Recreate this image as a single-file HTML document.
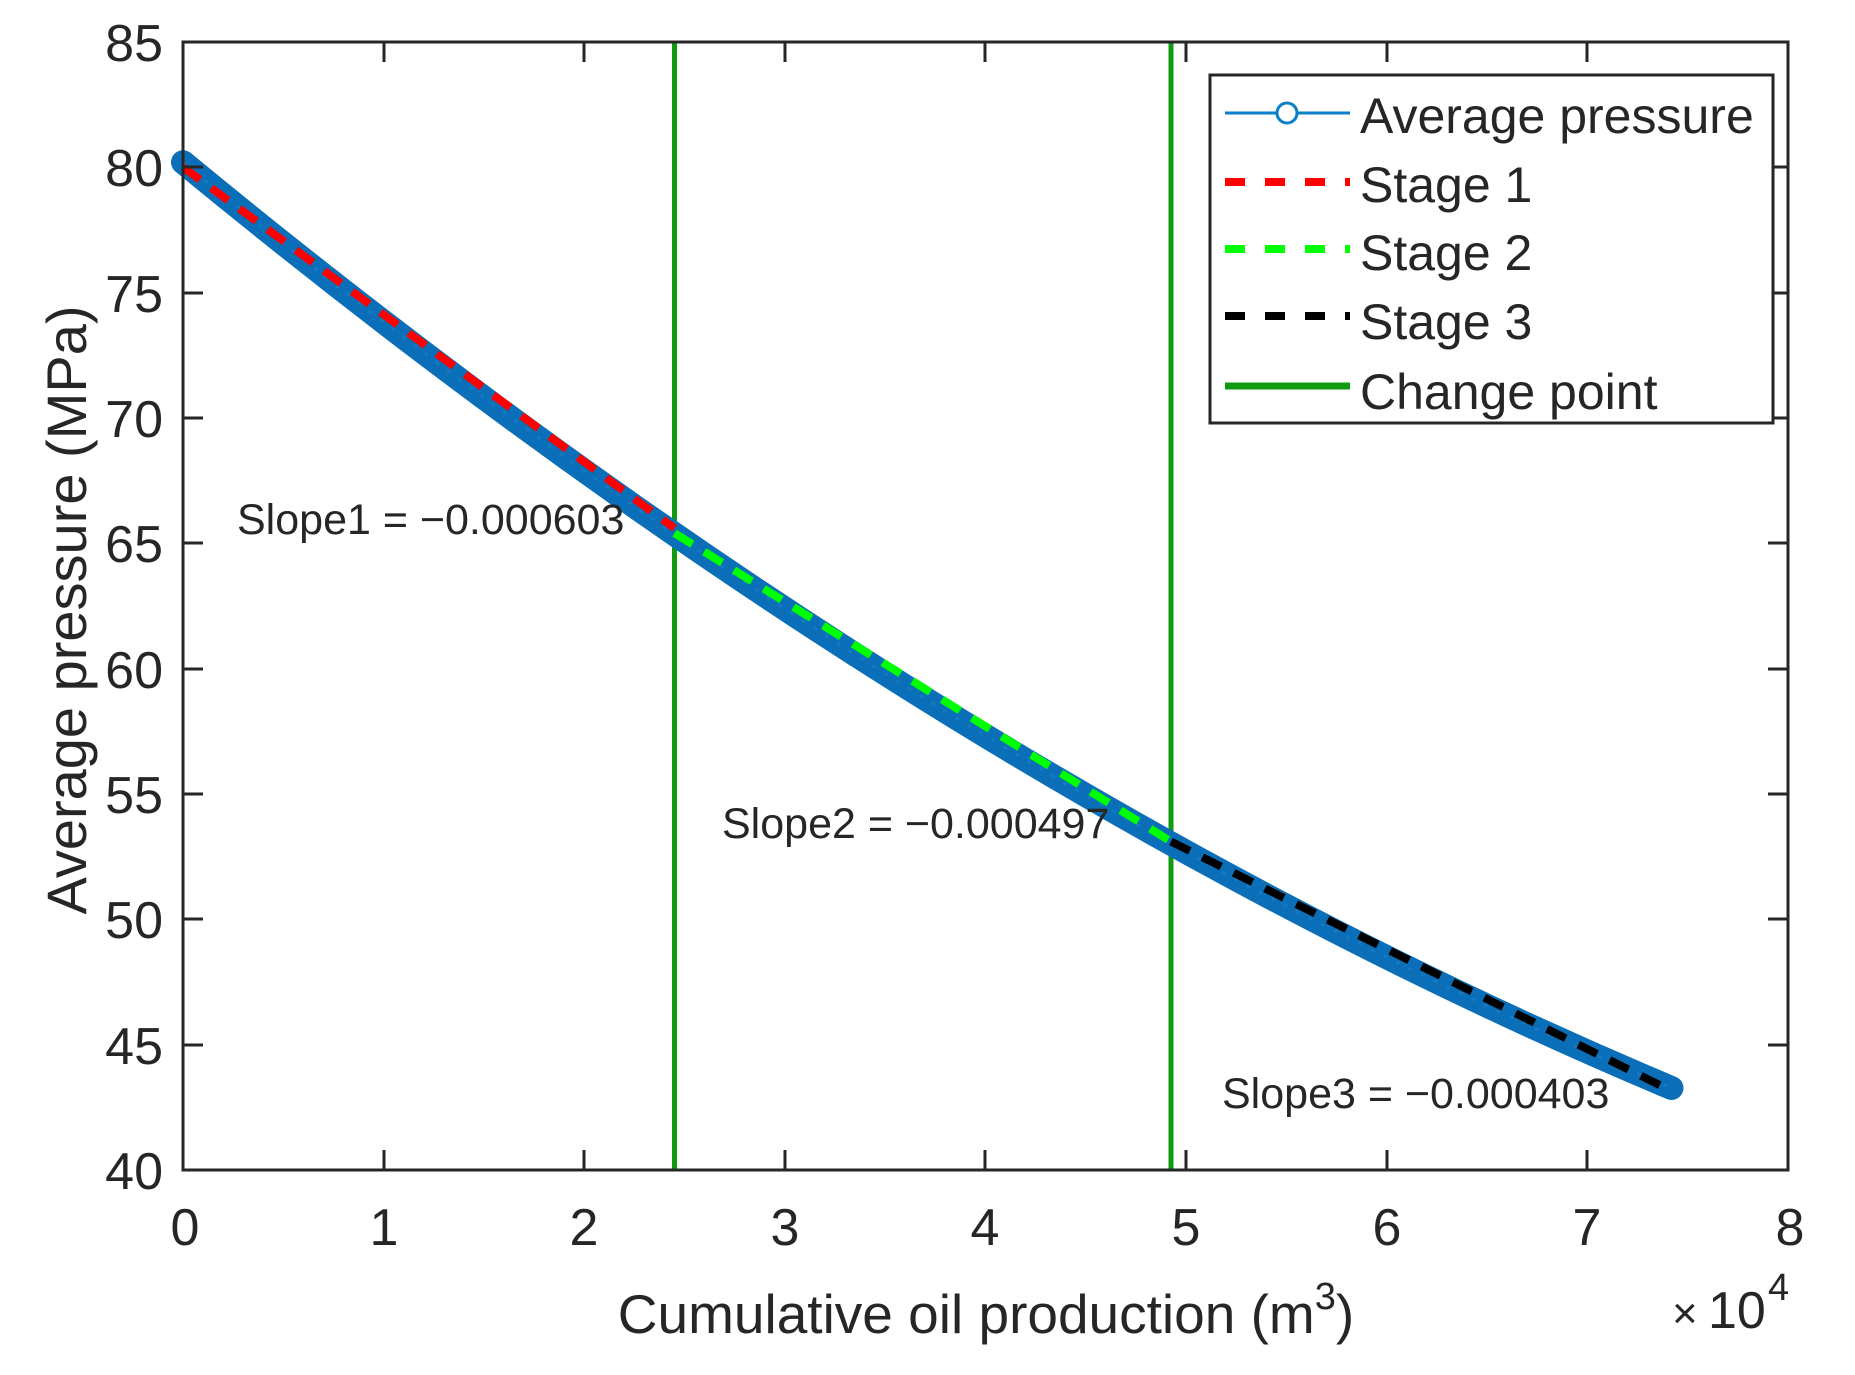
<!DOCTYPE html>
<html><head><meta charset="utf-8"><style>
html,body{margin:0;padding:0;background:#fff}
svg{display:block}
text{font-family:"Liberation Sans",Arial,sans-serif;fill:#262626}
</style></head><body>
<svg width="1855" height="1375" viewBox="0 0 1855 1375" xmlns="http://www.w3.org/2000/svg">
<rect width="1855" height="1375" fill="#fff"/>
<line x1="674.5" y1="42" x2="674.5" y2="1170" stroke="#109a10" stroke-width="5"/>
<line x1="1171" y1="42" x2="1171" y2="1170" stroke="#109a10" stroke-width="5"/>
<path d="M183,162.2 Q927.2,775 1671.5,1088" fill="none" stroke="#0a6fb8" stroke-width="24" stroke-linecap="round"/>
<path d="M183,162.2 Q927.2,775 1671.5,1088" fill="none" stroke="#1e82c8" stroke-width="3" stroke-dasharray="4 10" opacity="0.6"/>
<line x1="183" y1="167.2" x2="674.5" y2="528.2" stroke="#ff0000" stroke-width="8" stroke-dasharray="21 14"/>
<line x1="674.5" y1="533.2" x2="1171" y2="841.6" stroke="#00ff00" stroke-width="8" stroke-dasharray="21 14"/>
<line x1="1171" y1="841.6" x2="1671.5" y2="1091" stroke="#000" stroke-width="8" stroke-dasharray="21 14"/>
<rect x="183" y="42" width="1605" height="1128" fill="none" stroke="#262626" stroke-width="3"/>
<g stroke="#262626" stroke-width="3">
<line x1="384" y1="1170" x2="384" y2="1150"/><line x1="584" y1="1170" x2="584" y2="1150"/><line x1="785" y1="1170" x2="785" y2="1150"/><line x1="985" y1="1170" x2="985" y2="1150"/><line x1="1186" y1="1170" x2="1186" y2="1150"/><line x1="1387" y1="1170" x2="1387" y2="1150"/><line x1="1587" y1="1170" x2="1587" y2="1150"/>
<line x1="384" y1="42" x2="384" y2="62"/><line x1="584" y1="42" x2="584" y2="62"/><line x1="785" y1="42" x2="785" y2="62"/><line x1="985" y1="42" x2="985" y2="62"/><line x1="1186" y1="42" x2="1186" y2="62"/><line x1="1387" y1="42" x2="1387" y2="62"/><line x1="1587" y1="42" x2="1587" y2="62"/>
<line x1="183" y1="1045" x2="203" y2="1045"/><line x1="183" y1="919" x2="203" y2="919"/><line x1="183" y1="794" x2="203" y2="794"/><line x1="183" y1="669" x2="203" y2="669"/><line x1="183" y1="543" x2="203" y2="543"/><line x1="183" y1="418" x2="203" y2="418"/><line x1="183" y1="293" x2="203" y2="293"/><line x1="183" y1="167" x2="203" y2="167"/>
<line x1="1788" y1="1045" x2="1768" y2="1045"/><line x1="1788" y1="919" x2="1768" y2="919"/><line x1="1788" y1="794" x2="1768" y2="794"/><line x1="1788" y1="669" x2="1768" y2="669"/><line x1="1788" y1="543" x2="1768" y2="543"/><line x1="1788" y1="418" x2="1768" y2="418"/><line x1="1788" y1="293" x2="1768" y2="293"/><line x1="1788" y1="167" x2="1768" y2="167"/>
</g>
<g font-size="52" text-anchor="end">
<text x="163" y="1189">40</text><text x="163" y="1064">45</text><text x="163" y="938">50</text><text x="163" y="813">55</text><text x="163" y="688">60</text><text x="163" y="562">65</text><text x="163" y="437">70</text><text x="163" y="312">75</text><text x="163" y="186">80</text><text x="163" y="61">85</text>
</g>
<g font-size="52" text-anchor="middle">
<text x="185" y="1245">0</text><text x="384" y="1245">1</text><text x="584" y="1245">2</text><text x="785" y="1245">3</text><text x="985" y="1245">4</text><text x="1186" y="1245">5</text><text x="1387" y="1245">6</text><text x="1587" y="1245">7</text><text x="1790" y="1245">8</text>
</g>
<text x="1672" y="1328" font-size="44">×</text>
<text x="1708" y="1328" font-size="52">10</text>
<text x="1768" y="1300" font-size="38">4</text>
<text x="986" y="1333" font-size="55" text-anchor="middle">Cumulative oil production (m<tspan font-size="38" dy="-24">3</tspan><tspan dy="24">)</tspan></text>
<text transform="translate(86,610) rotate(-90)" font-size="56" text-anchor="middle">Average pressure (MPa)</text>
<g font-size="43">
<text x="237" y="534">Slope1 = −0.000603</text>
<text x="722" y="838">Slope2 = −0.000497</text>
<text x="1222" y="1108">Slope3 = −0.000403</text>
</g>
<rect x="1210" y="75" width="563" height="348" fill="#fff" stroke="#262626" stroke-width="3"/>
<line x1="1225" y1="113" x2="1350" y2="113" stroke="#0a80c8" stroke-width="3"/>
<circle cx="1287" cy="113" r="10" fill="#fff" stroke="#0a80c8" stroke-width="3"/>
<line x1="1225" y1="182" x2="1350" y2="182" stroke="#ff0000" stroke-width="8" stroke-dasharray="20 20"/>
<line x1="1225" y1="249" x2="1350" y2="249" stroke="#00ff00" stroke-width="8" stroke-dasharray="20 20"/>
<line x1="1225" y1="316" x2="1350" y2="316" stroke="#000" stroke-width="8" stroke-dasharray="20 20"/>
<line x1="1225" y1="386" x2="1350" y2="386" stroke="#109a10" stroke-width="7"/>
<g font-size="50" style="fill:#111">
<text x="1360" y="133">Average pressure</text>
<text x="1360" y="202">Stage 1</text>
<text x="1360" y="270">Stage 2</text>
<text x="1360" y="339">Stage 3</text>
<text x="1360" y="409">Change point</text>
</g>
</svg>
</body></html>
